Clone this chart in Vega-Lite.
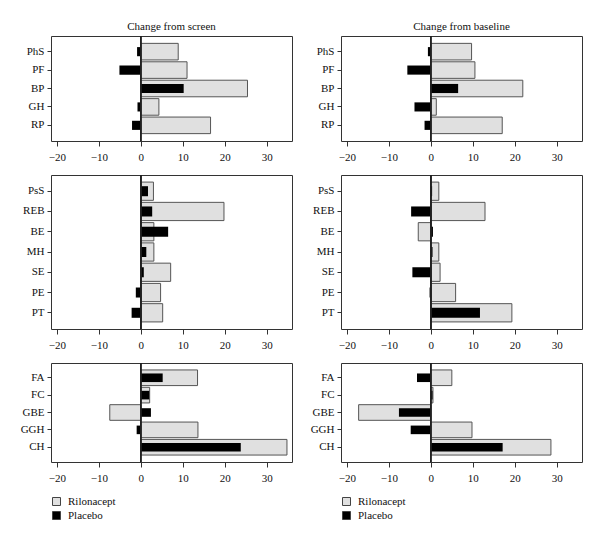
{
  "$schema": "https://vega.github.io/schema/vega-lite/v6.json",
  "background": "white",
  "padding": {"left": 19, "top": 20, "right": 5, "bottom": 5},
  "data": {"values": [
    {"panel": "screen1", "measure": "PhS", "ril": 8.9, "pla": -0.9},
    {"panel": "screen1", "measure": "PF", "ril": 11.0, "pla": -5.1},
    {"panel": "screen1", "measure": "BP", "ril": 25.4, "pla": 10.2},
    {"panel": "screen1", "measure": "GH", "ril": 4.3, "pla": -0.8},
    {"panel": "screen1", "measure": "RP", "ril": 16.6, "pla": -2.1},
    {"panel": "base1", "measure": "PhS", "ril": 9.7, "pla": -0.7},
    {"panel": "base1", "measure": "PF", "ril": 10.5, "pla": -5.6},
    {"panel": "base1", "measure": "BP", "ril": 21.9, "pla": 6.5},
    {"panel": "base1", "measure": "GH", "ril": 1.3, "pla": -3.9},
    {"panel": "base1", "measure": "RP", "ril": 17.0, "pla": -1.5},
    {"panel": "screen2", "measure": "PsS", "ril": 3.0, "pla": 1.7},
    {"panel": "screen2", "measure": "REB", "ril": 19.8, "pla": 2.7},
    {"panel": "screen2", "measure": "BE", "ril": 3.1, "pla": 6.5},
    {"panel": "screen2", "measure": "MH", "ril": 3.1, "pla": 1.3},
    {"panel": "screen2", "measure": "SE", "ril": 7.1, "pla": 0.7},
    {"panel": "screen2", "measure": "PE", "ril": 4.7, "pla": -1.2},
    {"panel": "screen2", "measure": "PT", "ril": 5.2, "pla": -2.2},
    {"panel": "base2", "measure": "PsS", "ril": 1.9, "pla": 0.3},
    {"panel": "base2", "measure": "REB", "ril": 12.9, "pla": -4.7},
    {"panel": "base2", "measure": "BE", "ril": -3.0, "pla": 0.5},
    {"panel": "base2", "measure": "MH", "ril": 1.9, "pla": 0.4},
    {"panel": "base2", "measure": "SE", "ril": 2.2, "pla": -4.4},
    {"panel": "base2", "measure": "PE", "ril": 5.9, "pla": -0.3},
    {"panel": "base2", "measure": "PT", "ril": 19.3, "pla": 11.7},
    {"panel": "screen3", "measure": "FA", "ril": 13.5, "pla": 5.2},
    {"panel": "screen3", "measure": "FC", "ril": 2.1, "pla": 2.0},
    {"panel": "screen3", "measure": "GBE", "ril": -7.4, "pla": 2.4},
    {"panel": "screen3", "measure": "GGH", "ril": 13.6, "pla": -1.0},
    {"panel": "screen3", "measure": "CH", "ril": 34.8, "pla": 23.8},
    {"panel": "base3", "measure": "FA", "ril": 5.0, "pla": -3.3},
    {"panel": "base3", "measure": "FC", "ril": 0.5, "pla": 0.4},
    {"panel": "base3", "measure": "GBE", "ril": -17.2, "pla": -7.6},
    {"panel": "base3", "measure": "GGH", "ril": 9.8, "pla": -4.8},
    {"panel": "base3", "measure": "CH", "ril": 28.6, "pla": 17.1}
  ]},
  "columns": 2,
  "align": "each",
  "spacing": {"row": 11, "column": 16},
  "resolve": {"scale": {"x": "independent", "y": "independent", "color": "independent"}},
  "concat": [
    {
      "title": "Change from screen",
      "width": 241, "height": 105,
      "transform": [{"filter": "datum.panel === 'screen1'"}],
      "layer": [
        {"mark": {"type": "bar", "stroke": "#555", "strokeWidth": 1},
         "encoding": {
           "y": {"field": "measure", "type": "nominal", "sort": ["PhS", "PF", "BP", "GH", "RP"], "scale": {"paddingInner": 0.1, "paddingOuter": 0.4}, "axis": {"title": null}},
           "x": {"field": "ril", "type": "quantitative", "scale": {"domain": [-21.4, 36], "nice": false, "zero": false}, "axis": {"values": [-20, -10, 0, 10, 20, 30], "title": null}},
           "color": {"datum": "Rilonacept", "scale": {"domain": ["Rilonacept", "Placebo"], "range": ["#e0e0e0", "#000000"]}, "legend": null}}},
        {"mark": {"type": "bar", "height": {"band": 0.55}},
         "encoding": {
           "y": {"field": "measure", "type": "nominal", "sort": ["PhS", "PF", "BP", "GH", "RP"]},
           "x": {"field": "pla", "type": "quantitative"},
           "color": {"datum": "Placebo", "legend": null}}},
        {"mark": {"type": "rule", "color": "#222", "strokeWidth": 1}, "encoding": {"x": {"datum": 0}}}
      ]
    },
    {
      "title": "Change from baseline",
      "width": 241, "height": 105,
      "transform": [{"filter": "datum.panel === 'base1'"}],
      "layer": [
        {"mark": {"type": "bar", "stroke": "#555", "strokeWidth": 1},
         "encoding": {
           "y": {"field": "measure", "type": "nominal", "sort": ["PhS", "PF", "BP", "GH", "RP"], "scale": {"paddingInner": 0.1, "paddingOuter": 0.4}, "axis": {"title": null}},
           "x": {"field": "ril", "type": "quantitative", "scale": {"domain": [-21.4, 36], "nice": false, "zero": false}, "axis": {"values": [-20, -10, 0, 10, 20, 30], "title": null}},
           "color": {"datum": "Rilonacept", "scale": {"domain": ["Rilonacept", "Placebo"], "range": ["#e0e0e0", "#000000"]}, "legend": null}}},
        {"mark": {"type": "bar", "height": {"band": 0.55}},
         "encoding": {
           "y": {"field": "measure", "type": "nominal", "sort": ["PhS", "PF", "BP", "GH", "RP"]},
           "x": {"field": "pla", "type": "quantitative"},
           "color": {"datum": "Placebo", "legend": null}}},
        {"mark": {"type": "rule", "color": "#222", "strokeWidth": 1}, "encoding": {"x": {"datum": 0}}}
      ]
    },
    {
      "width": 241, "height": 154,
      "transform": [{"filter": "datum.panel === 'screen2'"}],
      "layer": [
        {"mark": {"type": "bar", "stroke": "#555", "strokeWidth": 1},
         "encoding": {
           "y": {"field": "measure", "type": "nominal", "sort": ["PsS", "REB", "BE", "MH", "SE", "PE", "PT"], "scale": {"paddingInner": 0.1, "paddingOuter": 0.35}, "axis": {"title": null}},
           "x": {"field": "ril", "type": "quantitative", "scale": {"domain": [-21.4, 36], "nice": false, "zero": false}, "axis": {"values": [-20, -10, 0, 10, 20, 30], "title": null}},
           "color": {"datum": "Rilonacept", "scale": {"domain": ["Rilonacept", "Placebo"], "range": ["#e0e0e0", "#000000"]}, "legend": null}}},
        {"mark": {"type": "bar", "height": {"band": 0.55}},
         "encoding": {
           "y": {"field": "measure", "type": "nominal", "sort": ["PsS", "REB", "BE", "MH", "SE", "PE", "PT"]},
           "x": {"field": "pla", "type": "quantitative"},
           "color": {"datum": "Placebo", "legend": null}}},
        {"mark": {"type": "rule", "color": "#222", "strokeWidth": 1}, "encoding": {"x": {"datum": 0}}}
      ]
    },
    {
      "width": 241, "height": 154,
      "transform": [{"filter": "datum.panel === 'base2'"}],
      "layer": [
        {"mark": {"type": "bar", "stroke": "#555", "strokeWidth": 1},
         "encoding": {
           "y": {"field": "measure", "type": "nominal", "sort": ["PsS", "REB", "BE", "MH", "SE", "PE", "PT"], "scale": {"paddingInner": 0.1, "paddingOuter": 0.35}, "axis": {"title": null}},
           "x": {"field": "ril", "type": "quantitative", "scale": {"domain": [-21.4, 36], "nice": false, "zero": false}, "axis": {"values": [-20, -10, 0, 10, 20, 30], "title": null}},
           "color": {"datum": "Rilonacept", "scale": {"domain": ["Rilonacept", "Placebo"], "range": ["#e0e0e0", "#000000"]}, "legend": null}}},
        {"mark": {"type": "bar", "height": {"band": 0.55}},
         "encoding": {
           "y": {"field": "measure", "type": "nominal", "sort": ["PsS", "REB", "BE", "MH", "SE", "PE", "PT"]},
           "x": {"field": "pla", "type": "quantitative"},
           "color": {"datum": "Placebo", "legend": null}}},
        {"mark": {"type": "rule", "color": "#222", "strokeWidth": 1}, "encoding": {"x": {"datum": 0}}}
      ]
    },
    {
      "width": 241, "height": 99,
      "transform": [{"filter": "datum.panel === 'screen3'"}],
      "layer": [
        {"mark": {"type": "bar", "stroke": "#555", "strokeWidth": 1},
         "encoding": {
           "y": {"field": "measure", "type": "nominal", "sort": ["FA", "FC", "GBE", "GGH", "CH"], "scale": {"paddingInner": 0.1, "paddingOuter": 0.4}, "axis": {"title": null}},
           "x": {"field": "ril", "type": "quantitative", "scale": {"domain": [-21.4, 36], "nice": false, "zero": false}, "axis": {"values": [-20, -10, 0, 10, 20, 30], "title": null}},
           "color": {"datum": "Rilonacept", "scale": {"domain": ["Rilonacept", "Placebo"], "range": ["#e0e0e0", "#000000"]}, "legend": {"orient": "bottom", "direction": "vertical", "title": null, "offset": 13}}}},
        {"mark": {"type": "bar", "height": {"band": 0.55}},
         "encoding": {
           "y": {"field": "measure", "type": "nominal", "sort": ["FA", "FC", "GBE", "GGH", "CH"]},
           "x": {"field": "pla", "type": "quantitative"},
           "color": {"datum": "Placebo"}}},
        {"mark": {"type": "rule", "color": "#222", "strokeWidth": 1}, "encoding": {"x": {"datum": 0}}}
      ]
    },
    {
      "width": 241, "height": 99,
      "transform": [{"filter": "datum.panel === 'base3'"}],
      "layer": [
        {"mark": {"type": "bar", "stroke": "#555", "strokeWidth": 1},
         "encoding": {
           "y": {"field": "measure", "type": "nominal", "sort": ["FA", "FC", "GBE", "GGH", "CH"], "scale": {"paddingInner": 0.1, "paddingOuter": 0.4}, "axis": {"title": null}},
           "x": {"field": "ril", "type": "quantitative", "scale": {"domain": [-21.4, 36], "nice": false, "zero": false}, "axis": {"values": [-20, -10, 0, 10, 20, 30], "title": null}},
           "color": {"datum": "Rilonacept", "scale": {"domain": ["Rilonacept", "Placebo"], "range": ["#e0e0e0", "#000000"]}, "legend": {"orient": "bottom", "direction": "vertical", "title": null, "offset": 13}}}},
        {"mark": {"type": "bar", "height": {"band": 0.55}},
         "encoding": {
           "y": {"field": "measure", "type": "nominal", "sort": ["FA", "FC", "GBE", "GGH", "CH"]},
           "x": {"field": "pla", "type": "quantitative"},
           "color": {"datum": "Placebo"}}},
        {"mark": {"type": "rule", "color": "#222", "strokeWidth": 1}, "encoding": {"x": {"datum": 0}}}
      ]
    }
  ],
  "config": {
    "font": "Liberation Serif",
    "view": {"stroke": "#333", "strokeWidth": 1},
    "title": {"font": "Liberation Serif", "fontSize": 11, "fontWeight": "normal", "color": "#111", "offset": 4},
    "axis": {"grid": false, "domain": false, "tickColor": "#333", "tickSize": 4, "labelFont": "Liberation Serif", "labelFontSize": 11, "labelColor": "#111"},
    "axisX": {"labelPadding": 5, "tickSize": 5},
    "axisY": {"labelPadding": 3},
    "legend": {"labelFont": "Liberation Serif", "labelFontSize": 11, "labelColor": "#111", "symbolType": "square", "symbolSize": 64, "symbolStrokeColor": "#444", "symbolStrokeWidth": 1, "rowPadding": 1, "labelOffset": 6}
  }
}
